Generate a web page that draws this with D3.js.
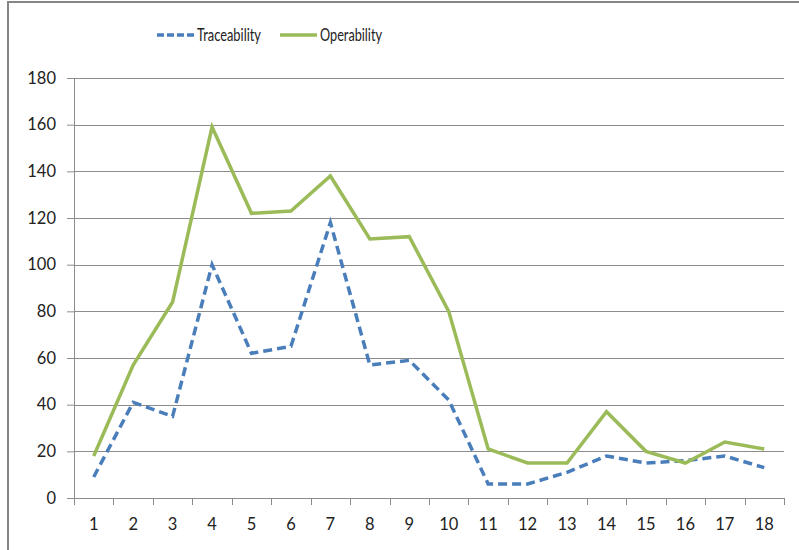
<!DOCTYPE html>
<html>
<head>
<meta charset="utf-8">
<script src="https://cdn.jsdelivr.net/npm/d3@7"></script>
<style>
  body { margin: 0; background: #fff; }
  text { font-family: Lato, "Liberation Sans", Arial, sans-serif; fill: #222; }
</style>
</head>
<body>
<div id="chart"></div>
<script>
var categories = ["1","2","3","4","5","6","7","8","9","10","11","12","13","14","15","16","17","18"];
var traceability = [9, 41, 35, 100, 62, 65, 118, 57, 59, 42, 6, 6, 11, 18, 15, 16, 18, 13];
var operability = [18, 57, 84, 159, 122, 123, 138, 111, 112, 80, 21, 15, 15, 37, 20, 15, 24, 21];
var yTicks = [0, 20, 40, 60, 80, 100, 120, 140, 160, 180];

var series = [
        { name: "Traceability", values: traceability, color: "#4a7ebb", dash: "9,5", labelWidth: 64 },
        { name: "Operability", values: operability, color: "#9bbb59", dash: null, labelWidth: 62 }
];

var W = 799, H = 550;
var margin = { top: 78, right: 15, bottom: 52, left: 74 },
        width = W - margin.left - margin.right,
        height = H - margin.top - margin.bottom;

var svg = d3.select("#chart").append("svg")
        .attr("width", W)
        .attr("height", H);

// outer frame
svg.append("rect")
        .attr("x", 8)
        .attr("y", 2)
        .attr("width", W)
        .attr("height", H)
        .attr("fill", "none")
        .attr("stroke", "#868686")
        .attr("stroke-width", 2);

var g = svg.append("g")
        .attr("transform", "translate(" + margin.left + "," + margin.top + ")");

var x = d3.scaleBand()
        .domain(categories)
        .range([0, width]);

var y = d3.scaleLinear()
        .domain([0, 180])
        .range([height, 0]);

// gridlines
g.selectAll(".grid")
        .data(yTicks.slice(1))
        .enter().append("line")
        .attr("class", "grid")
        .attr("x1", 0)
        .attr("x2", width)
        .attr("y1", function (d) { return Math.round(y(d)) + 0.5; })
        .attr("y2", function (d) { return Math.round(y(d)) + 0.5; })
        .attr("stroke", "#8c8c8c")
        .attr("stroke-width", 1);

// y axis
var yAxis = g.append("g")
        .call(d3.axisLeft(y).tickValues(yTicks).tickSize(7).tickPadding(11));
yAxis.select(".domain").attr("stroke", "#8c8c8c");
yAxis.selectAll(".tick line").attr("stroke", "#8c8c8c");
yAxis.selectAll("text").style("font-size", "16.5px").attr("fill", "#222");

// x axis with ticks at band edges
var xAxis = g.append("g")
        .attr("transform", "translate(0," + height + ")")
        .call(d3.axisBottom(x).tickSize(0).tickPadding(20));
xAxis.select(".domain").attr("stroke", "#8c8c8c");
xAxis.selectAll("text").style("font-size", "16.5px").attr("fill", "#222");

var edges = categories.map(function (c) { return x(c); }).concat([width]);
g.selectAll(".xtick")
        .data(edges)
        .enter().append("line")
        .attr("class", "xtick")
        .attr("x1", function (d) { return Math.round(d) + 0.5; })
        .attr("x2", function (d) { return Math.round(d) + 0.5; })
        .attr("y1", height)
        .attr("y2", height + 7)
        .attr("stroke", "#8c8c8c");

var line = d3.line()
        .x(function (d, i) { return x(categories[i]) + x.bandwidth() / 2; })
        .y(function (d) { return y(d); });

g.selectAll(".series")
        .data(series)
        .enter().append("path")
        .attr("class", "series")
        .attr("d", function (d) { return line(d.values); })
        .attr("fill", "none")
        .attr("stroke", function (d) { return d.color; })
        .attr("stroke-width", 3.5)
        .attr("stroke-dasharray", function (d) { return d.dash; });

// legend
var legendX = [157, 280];
var legend = svg.selectAll(".legend")
        .data(series)
        .enter().append("g")
        .attr("class", "legend")
        .attr("transform", function (d, i) { return "translate(" + legendX[i] + ",35)"; });

legend.append("line")
        .attr("x1", 0)
        .attr("x2", 37)
        .attr("y1", 0)
        .attr("y2", 0)
        .attr("stroke", function (d) { return d.color; })
        .attr("stroke-width", 3.5)
        .attr("stroke-dasharray", function (d) { return d.dash ? "7,3" : null; });

legend.append("text")
        .attr("x", 40)
        .attr("y", 0)
        .attr("dy", "0.35em")
        .attr("textLength", function (d) { return d.labelWidth; })
        .attr("lengthAdjust", "spacingAndGlyphs")
        .style("font-size", "18px")
        .text(function (d) { return d.name; });
</script>
</body>
</html>
